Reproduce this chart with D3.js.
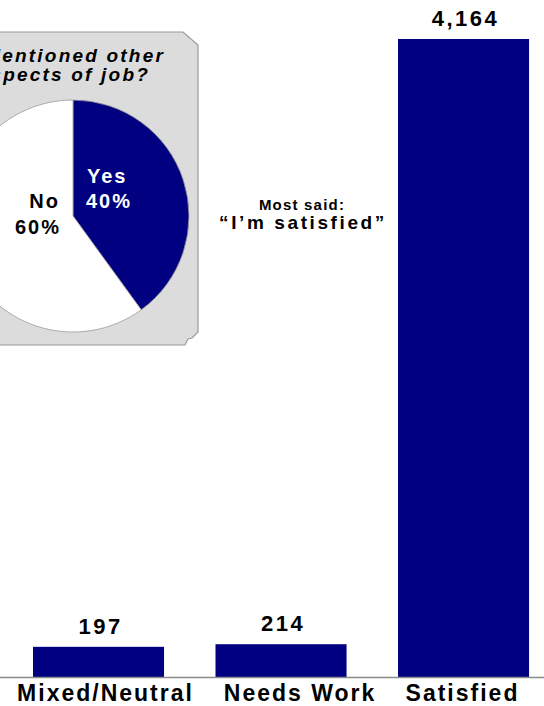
<!DOCTYPE html>
<html>
<head>
<meta charset="utf-8">
<script src="https://cdn.jsdelivr.net/npm/d3@7"></script>
<style>
  html, body { margin: 0; padding: 0; background: #ffffff; }
  svg { display: block; }
  text { font-family: "Liberation Sans", Arial, sans-serif; font-weight: bold; }
</style>
</head>
<body>
<div id="chart"></div>
<script>
// ---- data ----
const categories = ["Mixed/Neutral", "Needs Work", "Satisfied"];
const counts = [197, 214, 4164];
const pieLabels = ["Yes", "No"];
const pieShares = [40, 60];
const pieTitle = ["Mentioned other", "aspects of job?"];
const noteLines = ["Most said:", "\u201CI\u2019m satisfied\u201D"];

// ---- layout ----
const W = 544, H = 706;
const NAVY = "#000080";

const svg = d3.select("#chart").append("svg")
  .attr("width", W).attr("height", H)
  .attr("viewBox", `0 0 ${W} ${H}`);

const x = d3.scaleBand()
  .domain(categories)
  .range([14.75, 547.3])
  .paddingInner(0.282)
  .paddingOuter(0.1);

const y = d3.scaleLinear()
  .domain([0, d3.max(counts)])
  .range([677, 39]);

const bars = categories.map((c, i) => ({ cat: c, value: counts[i] }));

// bars
svg.append("g").selectAll("rect")
  .data(bars)
  .join("rect")
  .attr("x", d => x(d.cat))
  .attr("y", d => y(d.value))
  .attr("width", x.bandwidth())
  .attr("height", d => y(0) - y(d.value))
  .attr("fill", NAVY);

// baseline axis line
svg.append("line")
  .attr("x1", 0).attr("x2", W)
  .attr("y1", y(0) + 0.5).attr("y2", y(0) + 0.5)
  .attr("stroke", "#8a8a8a").attr("stroke-width", 1.5);

// value labels
const fmt = d3.format(",");
svg.append("g").selectAll("text")
  .data(bars)
  .join("text")
  .attr("x", d => x(d.cat) + x.bandwidth() / 2 + 2)
  .attr("y", d => y(d.value) - 13)
  .attr("text-anchor", "middle")
  .style("font-size", "22px")
  .style("letter-spacing", "2.5px")
  .attr("fill", "#000")
  .text(d => fmt(d.value));

// category labels
const labelNudge = [7, 19, -1];
svg.append("g").selectAll("text")
  .data(bars)
  .join("text")
  .attr("x", (d, i) => x(d.cat) + x.bandwidth() / 2 + labelNudge[i])
  .attr("y", 701)
  .attr("text-anchor", "middle")
  .style("font-size", "23px")
  .style("letter-spacing", "2px")
  .attr("fill", "#000")
  .text(d => d.cat);

// note in middle
const note = svg.append("g").attr("text-anchor", "middle");
note.append("text")
  .attr("x", 302).attr("y", 210)
  .style("font-size", "15px")
  .style("letter-spacing", "1.2px")
  .text(noteLines[0]);
note.append("text")
  .attr("x", 303).attr("y", 229)
  .style("font-size", "19px")
  .style("letter-spacing", "2.6px")
  .text(noteLines[1]);

// ---- inset box with pie ----
const box = svg.append("g");
box.append("path")
  .attr("d", "M-2,32 L183,32 L198,45 L198,332 L192,338 L188,339 L185,345 L-2,345 Z")
  .attr("fill", "#dcdcdc")
  .attr("stroke", "#9a9a9a")
  .attr("stroke-width", 1.2);

const titleG = box.append("g")
  .attr("text-anchor", "end")
  .style("font-style", "italic")
  .style("font-size", "19px")
  .style("letter-spacing", "2.2px");
titleG.append("text").attr("x", 165).attr("y", 62).text(pieTitle[0]);
titleG.append("text").attr("x", 150).attr("y", 81).text(pieTitle[1]);

const cx = 73, cy = 216, R = 116;
const pie = d3.pie().sort(null).value(d => d.v);
const arcs = pie(pieLabels.map((l, i) => ({ label: l, v: pieShares[i] })));
const arc = d3.arc().innerRadius(0).outerRadius(R);

const pg = box.append("g").attr("transform", `translate(${cx},${cy})`);
pg.selectAll("path")
  .data(arcs)
  .join("path")
  .attr("d", arc)
  .attr("fill", (d, i) => i === 0 ? NAVY : "#ffffff")
  .attr("stroke", "#9a9a9a")
  .attr("stroke-width", 0.8);

// pie labels
const yesG = svg.append("g").attr("fill", "#ffffff")
  .style("font-size", "20px").style("letter-spacing", "2px");
yesG.append("text").attr("x", 87).attr("y", 183).text(pieLabels[0]);
yesG.append("text").attr("x", 86).attr("y", 208).text(pieShares[0] + "%");

const noG = svg.append("g").attr("fill", "#000000").attr("text-anchor", "end")
  .style("font-size", "20px").style("letter-spacing", "2px");
noG.append("text").attr("x", 60).attr("y", 208).text(pieLabels[1]);
noG.append("text").attr("x", 61).attr("y", 234).text(pieShares[1] + "%");
</script>
</body>
</html>
